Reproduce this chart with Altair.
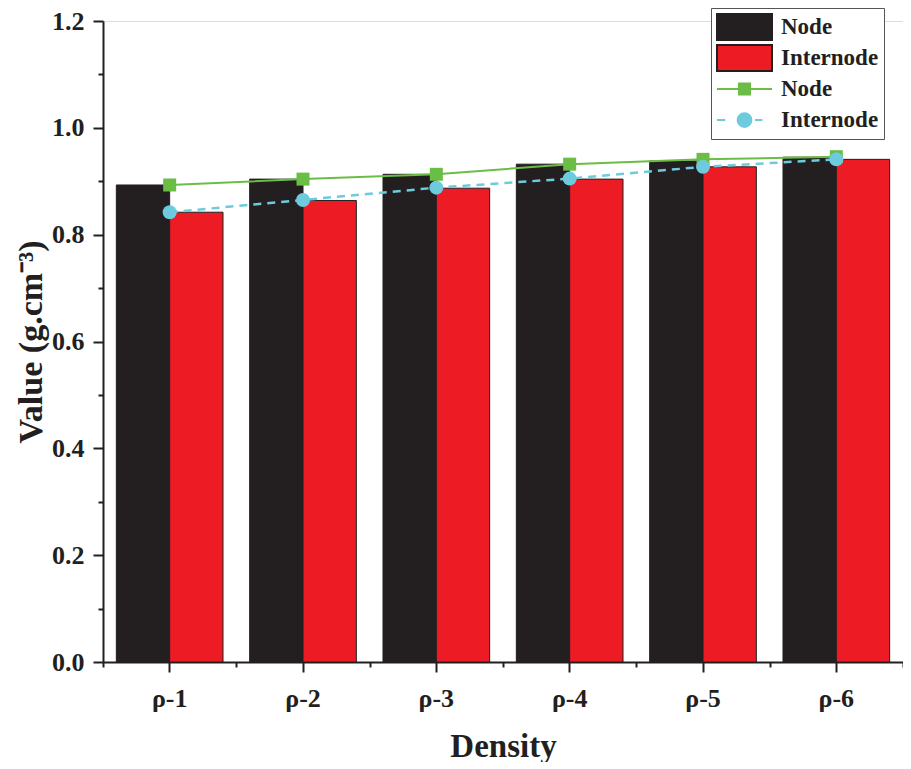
import altair as alt
import pandas as pd

densities = ["ρ-1", "ρ-2", "ρ-3", "ρ-4", "ρ-5", "ρ-6"]
node_bar = [0.893, 0.904, 0.913, 0.932, 0.938, 0.945]
internode_bar = [0.842, 0.864, 0.887, 0.904, 0.927, 0.941]
node_line = [0.893, 0.904, 0.913, 0.932, 0.941, 0.946]
internode_line = [0.842, 0.865, 0.888, 0.905, 0.927, 0.941]

series_keys = ["Node_bar", "Internode_bar", "Node_line", "Internode_line"]
fill_colors = ["#231f20", "#ed1c24", "#6abd45", "#6dcbdd"]
stroke_colors = ["#231f20", "#231f20", "#6abd45", "#6dcbdd"]
legend_shapes = [
    "M-1,-0.47H1V0.47H-1Z",
    "M-1,-0.47H1V0.47H-1Z",
    "M-1,0H1M-0.2,-0.2H0.2V0.2H-0.2Z",
    "M-1,0H-0.7M0.38,0H0.65M0.25,0A0.25,0.25,0,1,1,-0.25,0A0.25,0.25,0,1,1,0.25,0Z",
]
y_ticks = [round(i * 0.1, 1) for i in range(13)]

bar_df = pd.DataFrame({
    "density": densities * 2,
    "series": ["Node_bar"] * 6 + ["Internode_bar"] * 6,
    "value": node_bar + internode_bar,
})
line_df = pd.DataFrame({
    "density": densities * 2,
    "series": ["Node_line"] * 6 + ["Internode_line"] * 6,
    "value": node_line + internode_line,
})

FONT = "Liberation Serif"
INK = "#231f20"

fill_scale = alt.Scale(domain=series_keys, range=fill_colors)
stroke_scale = alt.Scale(domain=series_keys, range=stroke_colors)
shape_scale = alt.Scale(domain=series_keys, range=legend_shapes)
x_scale = alt.Scale(domain=densities, paddingInner=0, paddingOuter=0)
y_scale = alt.Scale(domain=[0, 1.2], nice=False, zero=True)

y_axis = alt.Axis(
    values=y_ticks,
    labelExpr="round(datum.value*10) % 2 === 0 ? format(datum.value, '.1f') : ''",
    tickSize={"condition": {"test": "round(datum.value*10) % 2 === 0", "value": 10}, "value": 5},
    tickWidth=2, tickColor=INK, domainColor=INK, domainWidth=2,
    labelFont=FONT, labelFontWeight="bold", labelFontSize=26, labelColor=INK,
    labelPadding=9, grid=False,
    titleFont=FONT, titleFontWeight="bold", titleFontSize=34, titleColor=INK,
    titlePadding=3,
)
y_enc = alt.Y("value:Q", scale=y_scale, axis=y_axis, title="Value (g.cm⁻³)")

x_axis_main = alt.Axis(
    orient="bottom", title="Density", labelAngle=0,
    tickSize=10, tickWidth=2, tickColor=INK, domainColor=INK, domainWidth=2,
    labelFont=FONT, labelFontWeight="bold", labelFontSize=26, labelColor=INK,
    labelPadding=13,
    titleFont=FONT, titleFontWeight="bold", titleFontSize=33, titleColor=INK,
    titlePadding=19,
)
x_axis_minor = alt.Axis(
    orient="bottom", title=None, labels=False, domain=False,
    tickBand="extent", tickSize=5, tickWidth=2, tickColor=INK,
)

legend_def = alt.Legend(
    title=None, orient="none", legendX=608, legendY=-13,
    labelExpr="split(datum.label, '_')[0]",
    labelFont=FONT, labelFontWeight="bold", labelFontSize=23, labelColor=INK,
    labelLimit=300, labelOffset=8,
    symbolSize=3025, symbolStrokeWidth=2, clipHeight=28, rowPadding=3,
    padding=5, strokeColor="#555555", fillColor="white",
)

x_enc_plain = alt.X("density:N", scale=x_scale, sort=densities, axis=None)

legend_layer = alt.Chart(line_df).transform_filter("false").mark_point(filled=True, opacity=1).encode(
    fill=alt.Fill("series:N", scale=fill_scale, legend=legend_def),
    stroke=alt.Stroke("series:N", scale=stroke_scale, legend=legend_def),
    shape=alt.Shape("series:N", scale=shape_scale, legend=legend_def),
)

bars = alt.Chart(bar_df).mark_bar(stroke=INK, strokeWidth=1).encode(
    x=alt.X("density:N", scale=x_scale, sort=densities, axis=x_axis_main),
    xOffset=alt.XOffset("series:N", sort=["Node_bar", "Internode_bar"],
                        scale=alt.Scale(domain=["Node_bar", "Internode_bar"], paddingInner=0, paddingOuter=0.25)),
    y=y_enc,
    fill=alt.Fill("series:N", scale=fill_scale),
)

node_line_layer = alt.Chart(line_df).transform_filter("datum.series === 'Node_line'").mark_line(strokeWidth=2).encode(
    x=alt.X("density:N", scale=x_scale, sort=densities, axis=x_axis_minor),
    y=y_enc,
    stroke=alt.Stroke("series:N", scale=stroke_scale),
)

internode_line_layer = alt.Chart(line_df).transform_filter("datum.series === 'Internode_line'").mark_line(
    strokeWidth=2.5, strokeDash=[8, 6]
).encode(
    x=x_enc_plain,
    y=y_enc,
    stroke=alt.Stroke("series:N", scale=stroke_scale),
)

squares = alt.Chart(line_df).transform_filter("datum.series === 'Node_line'").mark_square(size=169, opacity=1).encode(
    x=x_enc_plain,
    y=y_enc,
    fill=alt.Fill("series:N", scale=fill_scale),
)

circles = alt.Chart(line_df).transform_filter("datum.series === 'Internode_line'").mark_circle(size=196, opacity=1).encode(
    x=x_enc_plain,
    y=y_enc,
    fill=alt.Fill("series:N", scale=fill_scale),
)

chart = alt.layer(
    legend_layer, bars, node_line_layer, internode_line_layer, squares, circles
).resolve_axis(
    x="independent"
).properties(
    width=800, height=641,
    autosize=alt.AutoSizeParams(type="none"),
    padding={"left": 95, "top": 13, "right": 0, "bottom": 100},
).configure_view(stroke=None).configure(background="white")

chart.save("out.html", embed_options={"renderer": "svg", "actions": False})
